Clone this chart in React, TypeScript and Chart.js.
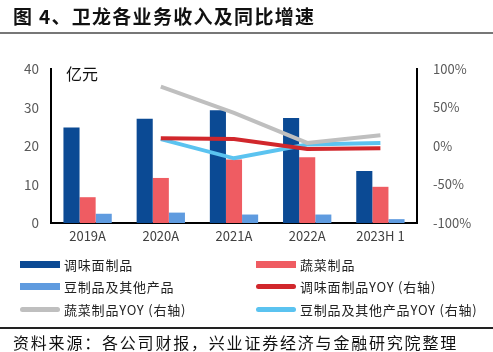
import React, { useEffect, useRef } from "react";
import { Chart, registerables } from "chart.js";

Chart.register(...registerables);

const categories = ["2019A", "2020A", "2021A", "2022A", "2023H 1"];
const noodleRev = [24.8, 27.1, 29.3, 27.3, 13.5];
const vegRev = [6.7, 11.7, 16.5, 17.1, 9.4];
const beanRev = [2.4, 2.7, 2.2, 2.2, 1.0];
const noodleYoy = [null, 10, 9, -4, -3];
const vegYoy = [null, 77, 43, 4, 14];
const beanYoy = [null, 9, -16, 2, 4];
const leftTicks = [0, 10, 20, 30, 40];
const rightTicks = [-100, -50, 0, 50, 100];

const C_NOODLE = "#0B4A94";
const C_VEG = "#EF5C62";
const C_BEAN = "#5F9BDF";
const C_NOODLE_L = "#D1272C";
const C_VEG_L = "#BFBFBF";
const C_BEAN_L = "#5BC3F0";

const FONT = "'Noto Sans CJK SC', 'Noto Sans', sans-serif";

const legendItems = [
  { label: "调味面制品", color: C_NOODLE, line: false },
  { label: "蔬菜制品", color: C_VEG, line: false },
  { label: "豆制品及其他产品", color: C_BEAN, line: false },
  { label: "调味面制品YOY (右轴)", color: C_NOODLE_L, line: true },
  { label: "蔬菜制品YOY (右轴)", color: C_VEG_L, line: true },
  { label: "豆制品及其他产品YOY (右轴)", color: C_BEAN_L, line: true },
];

export default function App() {
  const ref = useRef<HTMLCanvasElement | null>(null);
  useEffect(() => {
    if (!ref.current) return;
    const chart = new Chart(ref.current, {
      data: {
        labels: categories,
        datasets: [
          { type: "line", label: "调味面制品YOY", data: noodleYoy, yAxisID: "y1", borderColor: C_NOODLE_L, borderWidth: 4, pointRadius: 0, order: 1, tension: 0 },
          { type: "line", label: "蔬菜制品YOY", data: vegYoy, yAxisID: "y1", borderColor: C_VEG_L, borderWidth: 4, pointRadius: 0, order: 0, tension: 0 },
          { type: "line", label: "豆制品YOY", data: beanYoy, yAxisID: "y1", borderColor: C_BEAN_L, borderWidth: 4, pointRadius: 0, order: 2, tension: 0 },
          { type: "bar", label: "调味面制品", data: noodleRev, yAxisID: "y", backgroundColor: C_NOODLE, order: 5 },
          { type: "bar", label: "蔬菜制品", data: vegRev, yAxisID: "y", backgroundColor: C_VEG, order: 5 },
          { type: "bar", label: "豆制品及其他产品", data: beanRev, yAxisID: "y", backgroundColor: C_BEAN, order: 5 },
        ] as any,
      },
      options: {
        animation: false,
        responsive: false,
        maintainAspectRatio: false,
        layout: { padding: { left: 0, right: 0, top: 69, bottom: 104 } },
        datasets: { bar: { categoryPercentage: 0.66, barPercentage: 1 } } as any,
        plugins: { legend: { display: false }, tooltip: { enabled: false } },
        scales: {
          x: {
            grid: { display: false, drawTicks: false },
            border: { color: "#000", width: 2 },
            ticks: { color: "#404040", font: { family: FONT, size: 13 }, padding: 5 },
            afterFit: (s: any) => { s.height = 25; },
          },
          y: {
            position: "left",
            min: 0,
            max: 40,
            afterBuildTicks: (s: any) => { s.ticks = leftTicks.map((v) => ({ value: v })); },
            grid: { display: false, drawTicks: false },
            border: { color: "#000", width: 2 },
            ticks: { color: "#595959", font: { family: FONT, size: 13.5 }, padding: 12 },
            afterFit: (s: any) => { s.width = 51; },
          },
          y1: {
            position: "right",
            min: -100,
            max: 100,
            afterBuildTicks: (s: any) => { s.ticks = rightTicks.map((v) => ({ value: v })); },
            grid: { display: false, drawTicks: false, drawOnChartArea: false },
            border: { color: "#000", width: 2 },
            ticks: { color: "#595959", font: { family: FONT, size: 13 }, padding: 16, callback: (v: any) => v + "%" },
            afterFit: (s: any) => { s.width = 76; },
          },
        },
      },
    });
    return () => chart.destroy();
  }, []);

  return (
    <div style={{ position: "absolute", left: 0, top: 0, width: 493, height: 352, background: "#fff", overflow: "hidden", fontFamily: FONT }}>
      <canvas ref={ref} width={493} height={352} style={{ position: "absolute", left: 0, top: 0, width: 493, height: 352 }} />
      <div style={{ position: "absolute", left: 13, top: 2, fontSize: 19, fontWeight: 700, color: "#111", whiteSpace: "nowrap", letterSpacing: 1.3 }}>
        图 4、卫龙各业务收入及同比增速
      </div>
      <div style={{ position: "absolute", left: 0, top: 32, width: 493, height: 2, background: "#777" }} />
      <div style={{ position: "absolute", left: 66, top: 61, fontSize: 16, color: "#111", whiteSpace: "nowrap" }}>亿元</div>
      {legendItems.map((it, i) => {
        const col = i % 2;
        const row = Math.floor(i / 2);
        const left = col === 0 ? 20 : 256;
        const top = 255 + row * 22.5;
        return (
          <div key={i} style={{ position: "absolute", left, top, height: 18, display: "flex", alignItems: "center", whiteSpace: "nowrap" }}>
            <div style={{ width: 40, height: it.line ? 5 : 7, background: it.color, borderRadius: it.line ? 3 : 0, marginRight: 4 }} />
            <span style={{ fontSize: 13, color: "#222", letterSpacing: 0.8 }}>{it.label}</span>
          </div>
        );
      })}
      <div style={{ position: "absolute", left: 0, top: 327, width: 493, height: 1.5, background: "#222" }} />
      <div style={{ position: "absolute", left: 13, top: 330, fontSize: 16, color: "#111", whiteSpace: "nowrap", letterSpacing: 1.8 }}>
        资料来源：各公司财报，兴业证券经济与金融研究院整理
      </div>
    </div>
  );
}
